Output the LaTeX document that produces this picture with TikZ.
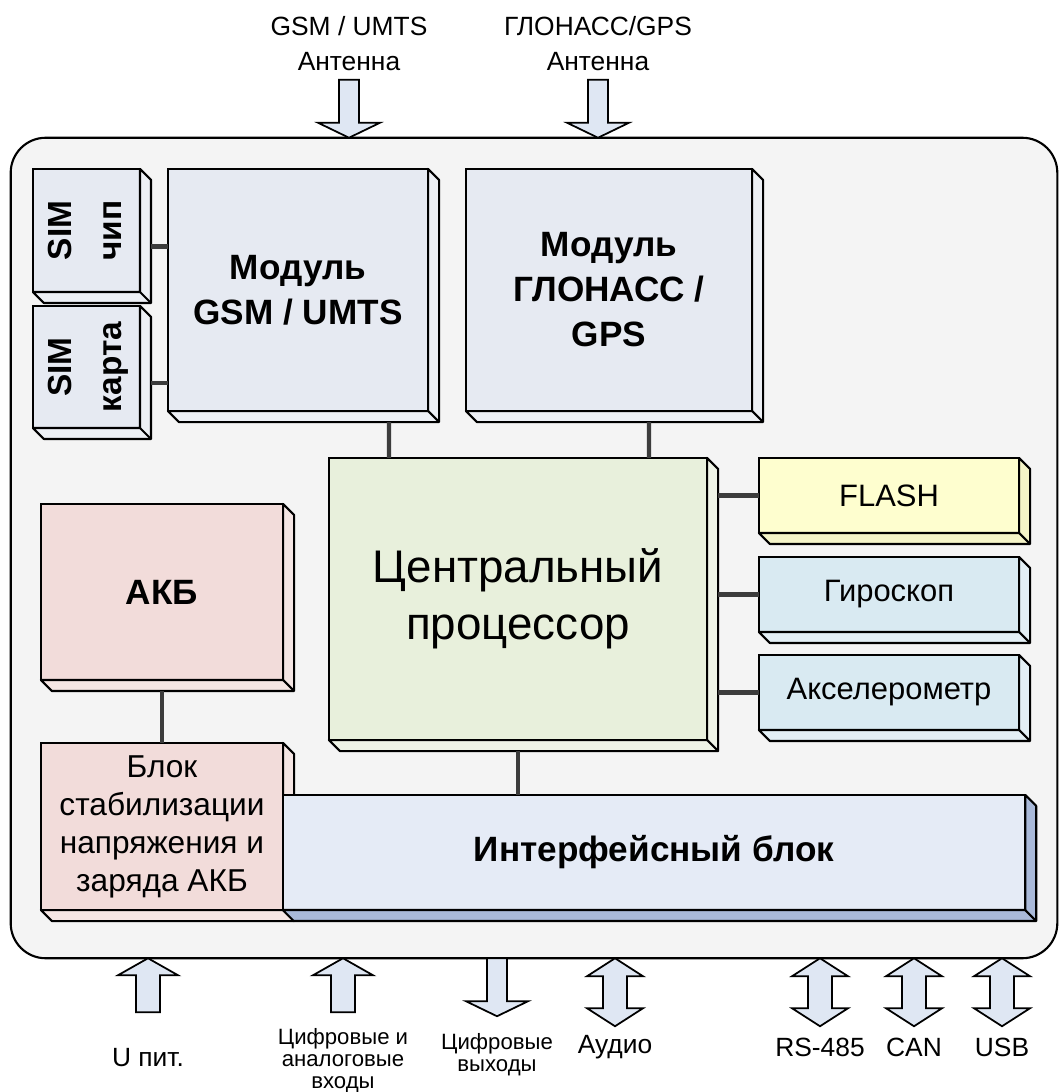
\documentclass[tikz,border=0pt]{standalone}
\usepackage{fontspec}
\setmainfont{Liberation Sans}
\usetikzlibrary{calc}
\definecolor{modblue}{HTML}{E6EAF2}
\definecolor{modside}{HTML}{EDF0F5}
\definecolor{cpugreen}{HTML}{E8F0DC}
\definecolor{cpuside}{HTML}{EEF3E6}
\definecolor{akbpink}{HTML}{F2DCDA}
\definecolor{akbside}{HTML}{F5E6E4}
\definecolor{flashyellow}{HTML}{FEFECF}
\definecolor{flashside}{HTML}{F4F4C8}
\definecolor{sensblue}{HTML}{D9EAF2}
\definecolor{sensside}{HTML}{E3EFF5}
\definecolor{ifaceblue}{HTML}{E5EBF6}
\definecolor{ifaceside}{HTML}{A9B9D9}
\definecolor{arrowfill}{HTML}{DFE7F3}
\definecolor{wiregray}{HTML}{3C3C3C}
\definecolor{boxgray}{HTML}{F4F4F4}

%% right and bottom faces of a block
\newcommand{\boxsides}[2]{%
  \filldraw[fill=#2, draw=black, line width=0.6pt, line join=round]
    (#1.north east) -- ++(11,11) -- ($(#1.south east)+(11,11)$) -- ($(#1.south west)+(11,11)$) -- (#1.south west) -- (#1.south east) -- cycle;
  \draw[line width=0.6pt] (#1.south east) -- ++(11,11);
}

\begin{document}
\begin{tikzpicture}[x=0.01cm, y=-0.01cm,
    blk/.style={draw=black, line width=0.6pt, fill=#1, outer sep=0pt, inner sep=0pt, align=center},
    wire/.style={draw=wiregray, line width=1.2pt},
    arrowbody/.style={draw=black, line width=0.5pt, fill=arrowfill, line join=miter},
    lbl/.style={font=\fontsize{7.5}{10}\selectfont, align=center, inner sep=0pt},
    smalllbl/.style={font=\fontsize{6.3}{6.3}\selectfont, align=center, inner sep=0pt},
    modtext/.style={font=\bfseries\fontsize{10}{12.8}\selectfont},
    senstext/.style={font=\fontsize{8.8}{10}\selectfont},
    pics/arrdown/.style={code={
      \filldraw[arrowbody] (-10,-58) -- (-10,-15) -- (-31,-15) -- (0,0) -- (31,-15) -- (10,-15) -- (10,-58) -- cycle;}},
    pics/arrup/.style={code={
      \filldraw[arrowbody] (-12,54) -- (-12,17) -- (-30,17) -- (0,0) -- (30,17) -- (12,17) -- (12,54) -- cycle;}},
    pics/arrboth/.style={code={
      \filldraw[arrowbody] (0,0) -- (28,18) -- (12,18) -- (12,50) -- (28,50) -- (0,68) -- (-28,50) -- (-12,50) -- (-12,18) -- (-28,18) -- cycle;}}]
    \useasboundingbox (0,0) rectangle (1059,1092);

    %% Housing
    \node[draw=black, line width=0.6pt, fill=boxgray, rounded corners=0.35cm, minimum width=10.46cm, minimum height=8.20cm, outer sep=0pt] (box) at (534,548) {};

    %% Radio modules
    \node[blk=modblue, font=\bfseries\fontsize{9.5}{14.2}\selectfont, minimum width=1.07cm, minimum height=1.23cm] (simchip) at (86.5,230.5)
      {\rotatebox{90}{\begin{tabular}{@{}c@{}}SIM\\чип\end{tabular}}};
    \boxsides{simchip}{modside}
    \node[blk=modblue, font=\bfseries\fontsize{9.5}{14.2}\selectfont, minimum width=1.07cm, minimum height=1.22cm] (simcard) at (86.5,367)
      {\rotatebox{90}{\begin{tabular}{@{}c@{}}SIM\\карта\end{tabular}}};
    \boxsides{simcard}{modside}
    \node[blk=modblue, modtext, minimum width=2.60cm, minimum height=2.42cm] (gsm) at (298,290) {Модуль\\GSM / UMTS};
    \boxsides{gsm}{modside}
    \node[blk=modblue, modtext, minimum width=2.86cm, minimum height=2.42cm] (glonass) at (609,290) {Модуль\\ГЛОНАСС /\\GPS};
    \boxsides{glonass}{modside}

    %% Processor and memory / sensors
    \node[blk=cpugreen, font=\fontsize{13}{16.2}\selectfont, minimum width=3.78cm, minimum height=2.82cm] (cpu) at (518,599) {Центральный\\процессор};
    \boxsides{cpu}{cpuside}
    \node[blk=flashyellow, senstext, minimum width=2.60cm, minimum height=0.75cm] (flash) at (889,495.5) {FLASH};
    \boxsides{flash}{flashside}
    \node[blk=sensblue, senstext, minimum width=2.60cm, minimum height=0.75cm] (gyro) at (889,594.5) {Гироскоп};
    \boxsides{gyro}{sensside}
    \node[blk=sensblue, senstext, minimum width=2.60cm, minimum height=0.75cm] (accel) at (889,692.5) {Акселерометр};
    \boxsides{accel}{sensside}

    %% Power
    \node[blk=akbpink, modtext, minimum width=2.42cm, minimum height=1.76cm] (akb) at (162,592) {АКБ};
    \boxsides{akb}{akbside}
    \node[blk=akbpink, font=\fontsize{9}{10.8}\selectfont, minimum width=2.42cm, minimum height=1.67cm] (stab) at (162,826.5)
      {Блок\\стабилизации\\напряжения и\\заряда АКБ};
    \boxsides{stab}{akbside}

    %% Interfaces
    \node[blk=ifaceblue, modtext, minimum width=7.42cm, minimum height=1.15cm] (iface) at (654,852.5) {Интерфейсный блок};
    \boxsides{iface}{ifaceside}

    %% Wires
    \coordinate (c1) at ([shift={(11,16)}]simchip.east);
    \coordinate (c2) at ([shift={(11,16)}]simcard.east);
    \draw[wire] (c1) -- (c1 -| gsm.west);
    \draw[wire] (c2) -- (c2 -| gsm.west);
    \draw[wire] ([shift={(221,11)}]gsm.south west) -- ([shift={(60,0)}]cpu.north west);
    \draw[wire] ([shift={(183,11)}]glonass.south west) -- ([shift={(320,0)}]cpu.north west);
    \draw[wire] ([xshift=0.11cm]cpu.east |- flash.west) -- (flash.west);
    \draw[wire] ([xshift=0.11cm]cpu.east |- gyro.west) -- (gyro.west);
    \draw[wire] ([xshift=0.11cm]cpu.east |- accel.west) -- (accel.west);
    \draw[wire] ([yshift=-0.11cm]cpu.south) -- (iface.north -| cpu.south);
    \draw[wire] ([yshift=-0.11cm]akb.south) -- (stab.north);

    %% Outside labels
    \node[lbl] (gsmant) at (349,44) {GSM / UMTS\\Антенна};
    \node[lbl] (gpsant) at (598,44) {ГЛОНАСС/GPS\\Антенна};
    \node[lbl] (upit) at (148,1058) {U пит.};
    \node[smalllbl] (din) at (343,1061) {Цифровые и\\аналоговые\\входы};
    \node[smalllbl] (dout) at (497,1055) {Цифровые\\выходы};
    \node[lbl] (audio) at (615,1047) {Аудио};
    \node[lbl] (rs) at (820,1047) {RS-485};
    \node[lbl] (can) at (914,1047) {CAN};
    \node[lbl] (usb) at (1002,1047) {USB};

    %% Block arrows
    \pic at (gsmant.south |- box.north) {arrdown};
    \pic at (gpsant.south |- box.north) {arrdown};
    \pic at (upit.north |- box.south) {arrup};
    \pic at (din.north |- box.south) {arrup};
    \pic at ($(dout.north |- box.south)+(0,58)$) {arrdown};
    \pic at (audio.north |- box.south) {arrboth};
    \pic at (rs.north |- box.south) {arrboth};
    \pic at (can.north |- box.south) {arrboth};
    \pic at (usb.north |- box.south) {arrboth};
\end{tikzpicture}
\end{document}
